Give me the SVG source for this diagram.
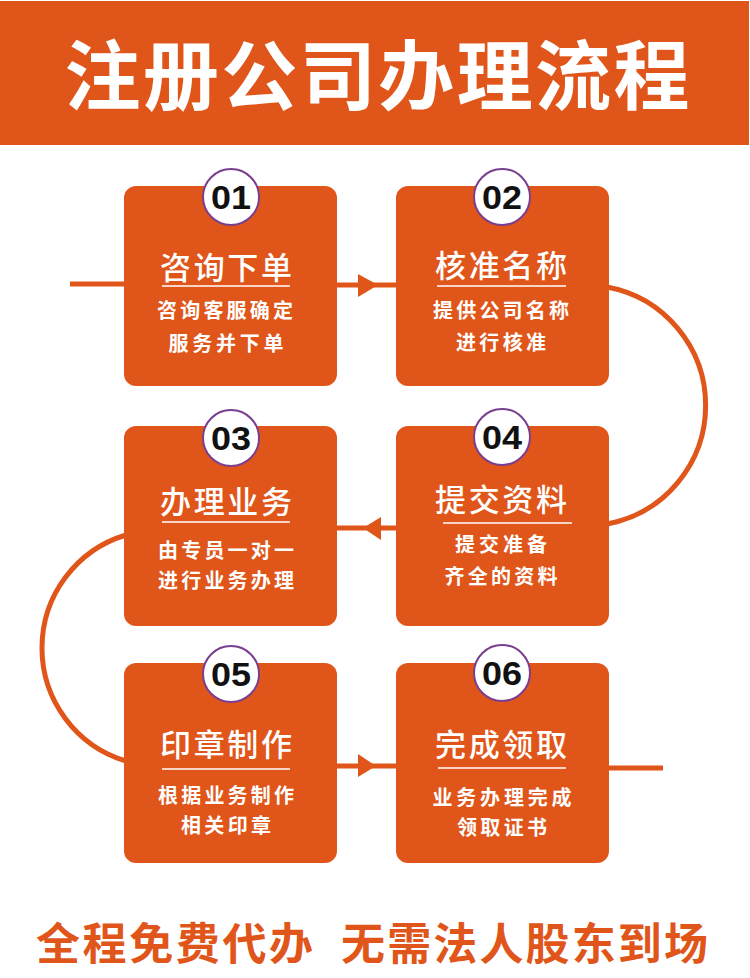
<svg xmlns="http://www.w3.org/2000/svg" width="750" height="978" viewBox="0 0 750 978">
<defs>
<style>
.cjk{font-family:"Noto Sans CJK SC","Noto Sans CJK JP",sans-serif}
.box{fill:#E0561A}
.num{fill:#fff;stroke:#7A3E8E;stroke-width:2}
.numt{font-family:"Liberation Sans",Arial,sans-serif;font-weight:bold;font-size:34px;fill:#111;text-anchor:middle}
.ttl{fill:#fff;font-size:31px;font-weight:500;text-anchor:middle}
.sub{fill:#fff;font-size:20px;font-weight:bold;text-anchor:middle}
.ul{stroke:#fff;stroke-width:1.6}
.conn{stroke:#E0561A;stroke-width:5;fill:none}
.arc{stroke:#E0561A;stroke-width:5;fill:none}
.ah{fill:#E0561A}
</style>
</defs>
<rect width="750" height="978" fill="#fff"/>
<g id="header">
<rect x="0" y="1" width="749" height="144" fill="#E0561A"/>
<text class="cjk" x="377" y="104" font-size="76" font-weight="bold" fill="#fff" text-anchor="middle" textLength="625" lengthAdjust="spacing">注册公司办理流程</text>
</g>
<g id="connectors">
<line class="conn" x1="70" y1="284" x2="126" y2="284"/>
<line class="conn" x1="335" y1="285" x2="398" y2="285"/>
<polygon class="ah" points="358,274 378,285 358,297"/>
<path class="arc" d="M607,287 A120.5,120.5 0 0 1 607,524"/>
<line class="conn" x1="335" y1="528" x2="398" y2="528"/>
<polygon class="ah" points="381,517 363,528 381,540"/>
<path class="arc" d="M126,535 A118,118 0 0 0 126,761"/>
<line class="conn" x1="335" y1="766" x2="398" y2="766"/>
<polygon class="ah" points="358,754 376,766 358,777"/>
<line class="conn" x1="607" y1="768" x2="663" y2="768"/>
</g>
<g id="step01">
<rect class="box" x="124" y="186" width="213" height="200" rx="12"/>
<circle class="num" cx="231" cy="197" r="28"/>
<text class="numt" x="231" y="209" textLength="40" lengthAdjust="spacingAndGlyphs">01</text>
<text class="cjk ttl" x="226" y="279" textLength="132" lengthAdjust="spacing">咨询下单</text>
<line class="ul" x1="162" y1="286" x2="290" y2="286"/>
<text class="cjk sub" x="225" y="318" textLength="136" lengthAdjust="spacing">咨询客服确定</text>
<text class="cjk sub" x="226" y="351" textLength="115" lengthAdjust="spacing">服务并下单</text>
</g>
<g id="step02">
<rect class="box" x="396" y="186" width="213" height="200" rx="12"/>
<circle class="num" cx="502" cy="197" r="28"/>
<text class="numt" x="502" y="209" textLength="40" lengthAdjust="spacingAndGlyphs">02</text>
<text class="cjk ttl" x="501" y="277" textLength="132" lengthAdjust="spacing">核准名称</text>
<line class="ul" x1="437" y1="286" x2="566" y2="286"/>
<text class="cjk sub" x="501" y="318" textLength="136" lengthAdjust="spacing">提供公司名称</text>
<text class="cjk sub" x="501" y="350" textLength="90" lengthAdjust="spacing">进行核准</text>
</g>
<g id="step03">
<rect class="box" x="124" y="426" width="213" height="200" rx="12"/>
<circle class="num" cx="231" cy="438" r="28"/>
<text class="numt" x="231" y="450" textLength="40" lengthAdjust="spacingAndGlyphs">03</text>
<text class="cjk ttl" x="226" y="513" textLength="132" lengthAdjust="spacing">办理业务</text>
<line class="ul" x1="162" y1="522" x2="290" y2="522"/>
<text class="cjk sub" x="226" y="558" textLength="136" lengthAdjust="spacing">由专员一对一</text>
<text class="cjk sub" x="226" y="588" textLength="136" lengthAdjust="spacing">进行业务办理</text>
</g>
<g id="step04">
<rect class="box" x="396" y="426" width="213" height="200" rx="12"/>
<circle class="num" cx="502" cy="437" r="28"/>
<text class="numt" x="502" y="449" textLength="40" lengthAdjust="spacingAndGlyphs">04</text>
<text class="cjk ttl" x="501" y="511" textLength="132" lengthAdjust="spacing">提交资料</text>
<line class="ul" x1="443" y1="523" x2="572" y2="523"/>
<text class="cjk sub" x="501" y="552" textLength="92" lengthAdjust="spacing">提交准备</text>
<text class="cjk sub" x="501" y="584" textLength="113" lengthAdjust="spacing">齐全的资料</text>
</g>
<g id="step05">
<rect class="box" x="124" y="663" width="213" height="200" rx="12"/>
<circle class="num" cx="231" cy="674" r="28"/>
<text class="numt" x="231" y="686" textLength="40" lengthAdjust="spacingAndGlyphs">05</text>
<text class="cjk ttl" x="226" y="756" textLength="132" lengthAdjust="spacing">印章制作</text>
<line class="ul" x1="162" y1="769" x2="290" y2="769"/>
<text class="cjk sub" x="226" y="803" textLength="136" lengthAdjust="spacing">根据业务制作</text>
<text class="cjk sub" x="226" y="833" textLength="90" lengthAdjust="spacing">相关印章</text>
</g>
<g id="step06">
<rect class="box" x="396" y="663" width="213" height="200" rx="12"/>
<circle class="num" cx="502" cy="673" r="28"/>
<text class="numt" x="502" y="685" textLength="40" lengthAdjust="spacingAndGlyphs">06</text>
<text class="cjk ttl" x="501" y="756" textLength="132" lengthAdjust="spacing">完成领取</text>
<line class="ul" x1="438" y1="768" x2="566" y2="768"/>
<text class="cjk sub" x="502" y="805" textLength="139" lengthAdjust="spacing">业务办理完成</text>
<text class="cjk sub" x="502" y="835" textLength="90" lengthAdjust="spacing">领取证书</text>
</g>
<g id="footer">
<text class="cjk" y="960" font-size="44" font-weight="bold" fill="#E0561A"><tspan x="36" textLength="277" lengthAdjust="spacing">全程免费代办</tspan><tspan x="341" textLength="367" lengthAdjust="spacing">无需法人股东到场</tspan></text>
</g>
</svg>
